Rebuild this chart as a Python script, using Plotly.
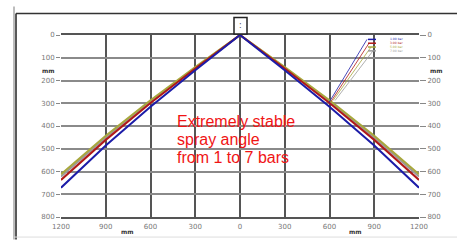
import plotly.graph_objects as go

# ---- data ----
x_right = [0, 300, 600, 900, 1200]
series_names = ["1.00 bar", "3.00 bar", "5.00 bar", "7.00 bar"]
series_colors = ["#1c1ca8", "#b01818", "#a8a83c", "#9a9a9a"]
y_blue = [0, 155, 315, 486, 671]
y_red = [0, 147, 299, 461, 637]
y_olive = [0, 141, 287, 443, 612]
y_gray = [0, 144, 292, 450, 622]
series_values = [y_blue, y_red, y_olive, y_gray]

x_tickvals = [-1200, -900, -600, -300, 0, 300, 600, 900, 1200]
x_ticktext = ["1200", "900", "600", "300", "0", "300", "600", "900", "1200"]
y_tickvals = [0, 100, 200, 300, 400, 500, 600, 700, 800]
y_ticktext = ["0", "100", "200", "300", "400", "500", "600", "700", "800"]

note_lines = ["Extremely stable", "spray angle", "from 1 to 7 bars"]

# ---- figure ----
W, H = 457, 243
L, R, T, B = 61, 38, 35, 22
pw, ph = W - L - R, H - T - B

def px2paper(px, py):
    return (px - L) / pw, (H - B - py) / ph

fig = go.Figure()

# draw in order: gray, olive, red, blue (blue on top)
for idx in [3, 2, 1, 0]:
    ys = series_values[idx]
    xs = [-v for v in x_right[::-1]] + x_right[1:]
    yy = ys[::-1] + ys[1:]
    fig.add_trace(go.Scatter(x=xs, y=yy, mode="lines",
                             line=dict(color=series_colors[idx], width=2),
                             showlegend=False, hoverinfo="skip"))

# invisible trace for right axis
fig.add_trace(go.Scatter(x=[0], y=[0], yaxis="y2", mode="markers",
                         marker=dict(opacity=0), showlegend=False, hoverinfo="skip"))

tickfont = dict(family="DejaVu Sans", size=7, color="#777777")

fig.update_layout(
    width=W, height=H, margin=dict(l=L, r=R, t=T, b=B, pad=0),
    paper_bgcolor="white", plot_bgcolor="white",
    xaxis=dict(range=[-1200, 1200], tickvals=x_tickvals, ticktext=x_ticktext,
               showgrid=True, gridcolor="#555555", gridwidth=1.5,
               zeroline=False, showline=True, linecolor="#555555", linewidth=1.5,
               mirror=True, ticks="", tickfont=tickfont, ticklabelstandoff=2),
    yaxis=dict(range=[800, 0], tickvals=y_tickvals, ticktext=y_ticktext,
               showgrid=True, gridcolor="#8a8a8a", gridwidth=2,
               zeroline=False, showline=False,
               ticks="outside", ticklen=4, tickcolor="#888888", tickwidth=1,
               tickfont=tickfont),
    yaxis2=dict(range=[800, 0], tickvals=y_tickvals, ticktext=y_ticktext,
                overlaying="y", side="right", showgrid=False, zeroline=False,
                ticks="outside", ticklen=6, tickcolor="#888888", tickwidth=1,
                tickfont=tickfont),
)

shapes = []
# outer frame lines
x_gray, _ = px2paper(14, 0)
x_blk, _ = px2paper(16, 0)
_, y_top_gray = px2paper(0, 6)
_, y_top = px2paper(0, 13)
_, y_bot = px2paper(0, 244)
_, y_bot_gray = px2paper(0, 241.5)
x_right_edge, _ = px2paper(460, 0)
shapes.append(dict(type="line", xref="paper", yref="paper", x0=x_gray, x1=x_gray,
                   y0=y_top_gray, y1=y_bot, line=dict(color="#bdbdbd", width=2)))
shapes.append(dict(type="line", xref="paper", yref="paper", x0=x_blk, x1=x_blk,
                   y0=y_top, y1=y_bot, line=dict(color="#222222", width=1.5)))
shapes.append(dict(type="line", xref="paper", yref="paper", x0=x_blk, x1=x_right_edge,
                   y0=y_top, y1=y_top, line=dict(color="#333333", width=1.5)))
shapes.append(dict(type="line", xref="paper", yref="paper", x0=x_gray, x1=x_right_edge,
                   y0=y_bot_gray, y1=y_bot_gray, line=dict(color="#dddddd", width=1)))
# top small box at apex
bx0, by0 = px2paper(234, 34)
bx1, by1 = px2paper(247, 17)
shapes.append(dict(type="rect", xref="paper", yref="paper", x0=bx0, x1=bx1, y0=by0, y1=by1,
                   line=dict(color="#222222", width=1.5), fillcolor="white"))

annotations = []
cx, cy = px2paper(240.5, 25.5)
annotations.append(dict(xref="paper", yref="paper", x=cx, y=cy, text=":", showarrow=False,
                        xanchor="center", yanchor="middle",
                        font=dict(family="DejaVu Sans", size=8, color="#444444")))

# legend entries with leader lines
leg_rows = [39.5, 43.4, 47.3, 51.2]
leg_start = [(367, leg_rows[0]), (369, leg_rows[1]), (371, leg_rows[2]), (373, leg_rows[3])]
leg_end = [(329, 104), (331, 103), (333, 102), (335, 102)]
for i, name in enumerate(series_names):
    sx, sy = px2paper(*leg_start[i])
    ex, ey = px2paper(*leg_end[i])
    shapes.append(dict(type="line", xref="paper", yref="paper", x0=sx, y0=sy, x1=ex, y1=ey,
                       line=dict(color=series_colors[i], width=0.8)))
    mx0, _ = px2paper(368, 0)
    mx1, _ = px2paper(376, 0)
    shapes.append(dict(type="line", xref="paper", yref="paper", x0=mx0, x1=mx1, y0=sy, y1=sy,
                       line=dict(color=series_colors[i], width=1.5)))
leg_text = "<br>".join(
    f"<span style='color:{series_colors[i]}'>{n}</span>" for i, n in enumerate(series_names))
tx, ty = px2paper(389, (leg_rows[0] + leg_rows[-1]) / 2)
annotations.append(dict(xref="paper", yref="paper", x=tx, y=ty, text=leg_text,
                        showarrow=False, xanchor="left", yanchor="middle", align="left",
                        borderpad=0,
                        font=dict(family="DejaVu Sans", size=3, color="#555555")))

# unit labels
for (ux, uy) in [(48, 71), (436, 71), (127, 236), (355, 236)]:
    px_, py_ = px2paper(ux, uy)
    annotations.append(dict(xref="paper", yref="paper", x=px_, y=py_, text="<b>mm</b>",
                            showarrow=False, xanchor="center", yanchor="middle", borderpad=0,
                            font=dict(family="DejaVu Sans", size=6, color="#333333")))

# red note
for i, line in enumerate(note_lines):
    nx, ny = px2paper(175, [123, 141.5, 160][i])
    annotations.append(dict(xref="paper", yref="paper", x=nx, y=ny, text=line,
                            showarrow=False, xanchor="left", yanchor="middle",
                            font=dict(family="Liberation Sans, Arial", size=16, color="#f01414")))

fig.update_layout(shapes=shapes, annotations=annotations)
fig.write_html("out.html", config={"displayModeBar": False},
               post_script="document.body.style.margin='0';document.body.style.overflow='hidden';")
